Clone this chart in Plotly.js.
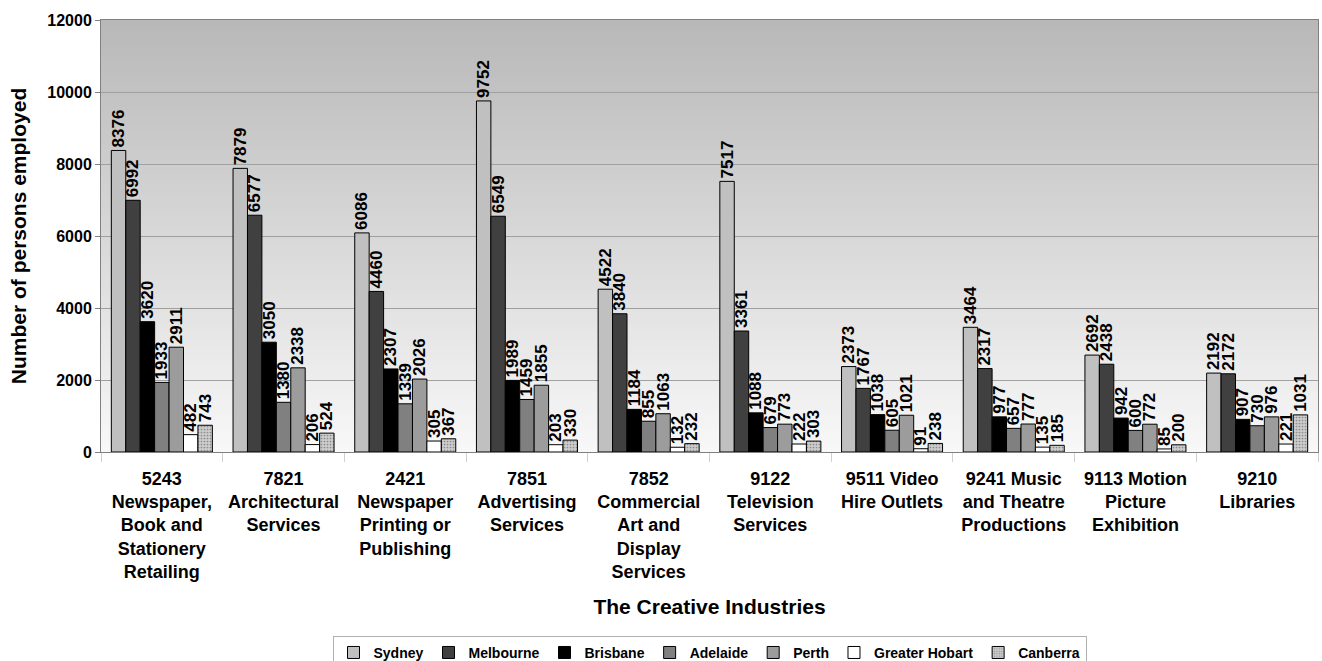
<!DOCTYPE html>
<html>
<head>
<meta charset="utf-8">
<script src="https://cdn.plot.ly/plotly-3.0.1.min.js"></script>
<style>
  html, body { margin: 0; padding: 0; background: #ffffff; }
  #chart { width: 1322px; height: 661px; }
</style>
</head>
<body>
<div id="chart"></div>
<script>
// ---- Data ----
const categories = [
  "5243<br>Newspaper,<br>Book and<br>Stationery<br>Retailing",
  "7821<br>Architectural<br>Services",
  "2421<br>Newspaper<br>Printing or<br>Publishing",
  "7851<br>Advertising<br>Services",
  "7852<br>Commercial<br>Art and<br>Display<br>Services",
  "9122<br>Television<br>Services",
  "9511 Video<br>Hire Outlets",
  "9241 Music<br>and Theatre<br>Productions",
  "9113 Motion<br>Picture<br>Exhibition",
  "9210<br>Libraries"
];
const seriesNames = ["Sydney", "Melbourne", "Brisbane", "Adelaide", "Perth", "Greater Hobart", "Canberra"];
const sydney     = [8376, 7879, 6086, 9752, 4522, 7517, 2373, 3464, 2692, 2192];
const melbourne  = [6992, 6577, 4460, 6549, 3840, 3361, 1767, 2317, 2438, 2172];
const brisbane   = [3620, 3050, 2307, 1989, 1184, 1088, 1038, 977, 942, 907];
const adelaide   = [1933, 1380, 1339, 1459, 855, 679, 605, 657, 600, 730];
const perth      = [2911, 2338, 2026, 1855, 1063, 773, 1021, 777, 772, 976];
const hobart     = [482, 206, 305, 203, 132, 222, 91, 135, 85, 221];
const canberra   = [743, 524, 367, 330, 232, 303, 238, 185, 200, 1031];
const seriesValues = [sydney, melbourne, brisbane, adelaide, perth, hobart, canberra];
const yTickVals = [0, 2000, 4000, 6000, 8000, 10000, 12000];
const yTickText = ["0", "2000", "4000", "6000", "8000", "10000", "12000"];

// ---- Styles ----
const FONT = "Liberation Sans, Arial, sans-serif";
const fills = ["#c0c0c0", "#404040", "#000000", "#808080", "#9c9c9c", "#ffffff", "#c8c8c8"];

const traces = seriesNames.map((name, i) => {
  const marker = { color: fills[i], line: { color: "#000000", width: 1 } };
  if (name === "Canberra") {
    marker.pattern = { shape: ".", fgcolor: "#8a8a8a", bgcolor: "#cccccc", size: 3, solidity: 0.25 };
  }
  return {
    type: "bar",
    name: name,
    x: categories,
    y: seriesValues[i],
    marker: marker,
    text: seriesValues[i].map(String),
    texttemplate: "%{text}",
    textposition: "outside",
    textangle: -90,
    constraintext: "none",
    cliponaxis: false,
    textfont: { family: FONT, size: 17, color: "#000000", weight: "bold" },
    hoverinfo: "x+y+name"
  };
});

// background gradient (decorative stripes behind plot)
const bgShapes = [];
const NSTRIPE = 90;
const gradTop = [184, 184, 184], gradBot = [248, 248, 248];
for (let k = 0; k < NSTRIPE; k++) {
  const t = (k + 0.5) / NSTRIPE; // 0 bottom -> 1 top
  const c = gradBot.map((b, j) => Math.round(b + (gradTop[j] - b) * t));
  bgShapes.push({
    type: "rect", xref: "paper", yref: "paper",
    x0: 0, x1: 1, y0: k / NSTRIPE, y1: Math.min(1, (k + 1) / NSTRIPE + 0.002),
    fillcolor: `rgb(${c[0]},${c[1]},${c[2]})`,
    line: { width: 0 }, layer: "below"
  });
}

const layout = {
  width: 1322, height: 661,
  margin: { l: 101, r: 4, t: 20, b: 209, autoexpand: false },
  paper_bgcolor: "#ffffff",
  plot_bgcolor: "#f0f0f0",
  barmode: "group",
  bargap: 0.17,
  bargroupgap: 0,
  showlegend: true,
  font: { family: FONT, color: "#000000" },
  xaxis: {
    type: "category",
    tickfont: { family: FONT, size: 18, color: "#000000", weight: "bold" },
    ticks: "outside", tickson: "boundaries", ticklen: 9, tickcolor: "#cfcfcf",
    ticklabelstandoff: 10,
    showline: true, linecolor: "#808080", linewidth: 1, mirror: true,
    showgrid: false,
    automargin: false,
    title: { text: "The Creative Industries", font: { family: FONT, size: 21, color: "#000000", weight: "bold" }, standoff: 18 }
  },
  yaxis: {
    range: [0, 12000],
    tickvals: yTickVals, ticktext: yTickText,
    tickfont: { family: FONT, size: 16, color: "#000000", weight: "bold" },
    ticks: "outside", ticklen: 5, tickcolor: "#808080",
    showline: true, linecolor: "#808080", linewidth: 1, mirror: true,
    showgrid: true, gridcolor: "#a0a0a0", gridwidth: 1,
    zeroline: false,
    automargin: false,
    title: { text: "Number of persons employed", font: { family: FONT, size: 21, color: "#000000", weight: "bold" }, standoff: 14 }
  },
  legend: {
    orientation: "h",
    x: 0.5, xanchor: "center",
    yref: "container",
    y: 0.038, yanchor: "top",
    font: { family: FONT, size: 14, color: "#000000", weight: "bold" },
    bordercolor: "#b0b0b0", borderwidth: 1,
    bgcolor: "#ffffff",
    itemwidth: 30,
    traceorder: "normal"
  },
  shapes: bgShapes
};

Plotly.newPlot("chart", traces, layout, { displayModeBar: false, staticPlot: true });
</script>
</body>
</html>
